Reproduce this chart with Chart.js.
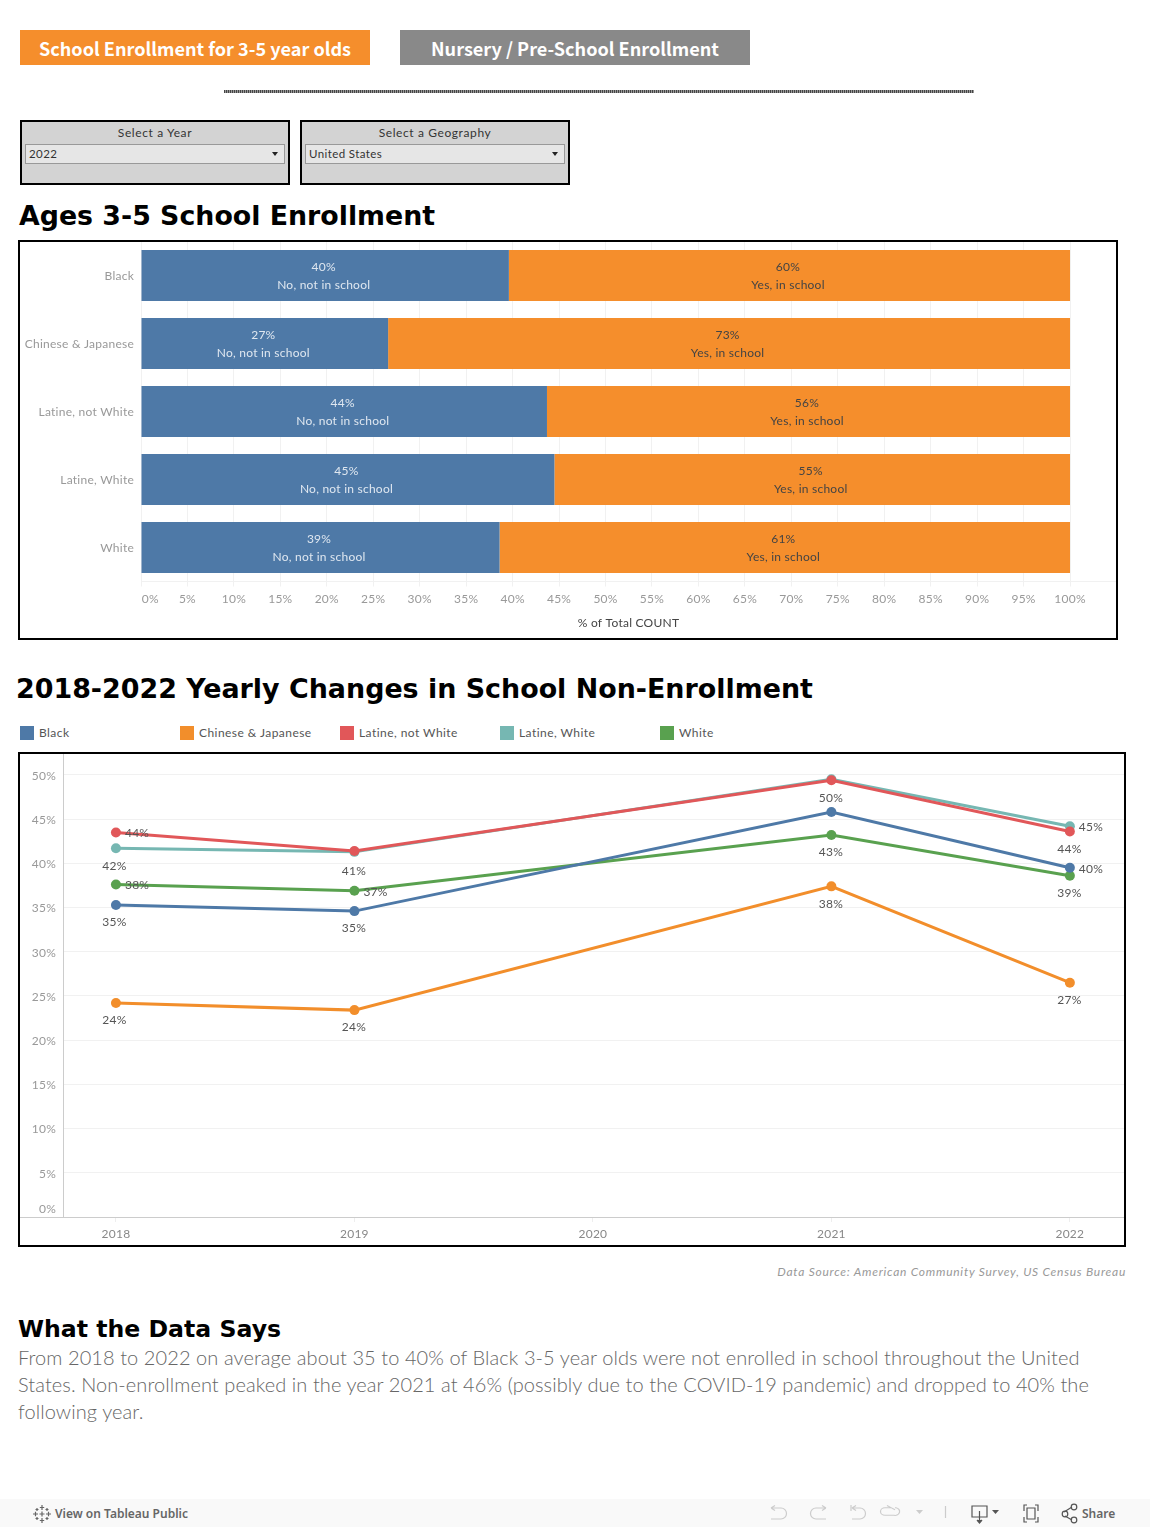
<!DOCTYPE html>
<html><head><meta charset="utf-8">
<script src="https://cdn.jsdelivr.net/npm/chart.js@4/dist/chart.umd.min.js"></script>
<style>
html,body{margin:0;padding:0;background:#fff;width:1150px;height:1527px;overflow:hidden}
body{position:relative;font-family:Lato,sans-serif}
.a{position:absolute;white-space:nowrap}
.btn{height:35px;width:350px;top:30px;color:#fff;font:700 18.1px/37px "Noto Sans CJK SC",sans-serif;text-align:center}
.h{font-family:"DejaVu Sans";font-weight:700;color:#000}
.flt{top:120px;width:266px;height:61px;border:2px solid #000;background:#d3d3d3}
.flt .t{position:absolute;left:0;right:0;top:3px;text-align:center;font-size:12px;line-height:15px;color:#333;letter-spacing:.6px}
.flt .d{position:absolute;left:3px;top:22px;width:258px;height:18px;border:1px solid #999;background:#e6e6e6;font-size:11.5px;line-height:18px;color:#333;text-indent:3px;letter-spacing:.4px}
.flt .d:after{content:"";position:absolute;right:6px;top:7px;border:3.5px solid transparent;border-top:4px solid #222;border-bottom:0}
.box{border:2px solid #000;box-sizing:border-box;pointer-events:none}
.lg{top:726px;height:14px;font-size:12px;line-height:14px;color:#555;padding-left:19px;letter-spacing:.45px}
.lg i{position:absolute;left:0;top:0;width:14px;height:14px}
canvas{position:absolute}
</style></head><body>
<div class="a btn" style="left:20px;background:#f58e2c">School Enrollment for 3-5 year olds</div>
<div class="a btn" style="left:400px;background:#898989">Nursery / Pre-School Enrollment</div>
<div class="a" style="left:224px;top:90px;width:750px;height:3px;background:repeating-linear-gradient(90deg,#444 0 1px,#999 1px 2px)"></div>
<div class="a flt" style="left:20px"><div class="t">Select a Year</div><div class="d">2022</div></div>
<div class="a flt" style="left:300px"><div class="t">Select a Geography</div><div class="d">United States</div></div>
<div class="a h" style="left:19px;top:198px;font-size:26.8px;line-height:36px">Ages 3-5 School Enrollment</div>
<div style="position:absolute;left:18px;top:240px;width:1100px;height:400px"><canvas id="bars" width="1100" height="400"></canvas></div>
<div class="a box" style="left:18px;top:240px;width:1100px;height:400px"></div>
<div class="a h" style="left:16px;top:671px;font-size:26.9px;line-height:36px">2018-2022 Yearly Changes in School Non-Enrollment</div>
<div id="legend"></div>
<div style="position:absolute;left:18px;top:749px;width:1111px;height:498px"><canvas id="lines" width="1111" height="498"></canvas></div>
<div class="a box" style="left:18px;top:752px;width:1108px;height:495px"></div>
<div class="a" style="right:24px;top:1264px;font-size:12px;line-height:16px;font-style:italic;color:#999;letter-spacing:.75px">Data Source: American Community Survey, US Census Bureau</div>
<div class="a h" style="left:18px;top:1313px;font-size:23.6px;line-height:32px">What the Data Says</div>
<div class="a" style="left:18px;top:1344px;font-size:20px;line-height:27px;font-weight:300;color:#666;letter-spacing:.08px">From 2018 to 2022 on average about 35 to 40% of Black 3-5 year olds were not enrolled in school throughout the United<br>States. Non-enrollment peaked in the year 2021 at 46% (possibly due to the COVID-19 pandemic) and dropped to 40% the<br>following year.</div>
<div class="a" style="left:0;top:1499px;width:1150px;height:28px;background:#f9f9f9"></div>
<svg class="a" style="left:32px;top:1504px" width="20" height="20" viewBox="0 0 20 20" stroke="#666" stroke-width="1.2" fill="none"><path d="M10 1v5M7.8 3.5h4.4M10 14v5M7.8 16.5h4.4M1 10h5M3.5 7.8v4.4M14 10h5M16.5 7.8v4.4M10 7.5v5M7.5 10h5M5 4v3M3.5 5.5h3M15 4v3M13.5 5.5h3M5 13v3M3.5 14.5h3M15 13v3M13.5 14.5h3"/></svg>
<div class="a" style="left:55px;top:1505px;font:600 12px/17px 'Noto Sans',sans-serif;color:#666">View on Tableau Public</div>
<svg class="a" style="left:760px;top:1499px" width="330" height="28" viewBox="0 0 330 28" fill="none" stroke="#ccc" stroke-width="1.2">
<path d="M11 9h10a5.500 5.500 0 0 1 0 11h-10M11 9l4-2.500M11 9l4 2.500"/>
<path d="M66 9h-10a5.500 5.500 0 0 0 0 11h10M66 9l-4-2.500M66 9l-4 2.500"/>
<path d="M91 6v6M92 9h8a5.500 5.500 0 0 1 0 11h-8M92 9l4-2.500M92 9l4 2.500"/>
<path d="M134 9h-6a4.500 4.500 0 0 0 0 9h9a4.500 4.500 0 0 0 2-9h-1M134 9l-4-2.500M134 9l4 2.500" transform="translate(-3 1) scale(1 .85)"/>
<path d="M156 11h7l-3.500 4z" fill="#ccc" stroke="none"/>
<path d="M185.500 7v12"/>
<g stroke="#555"><path d="M212 7h15v11h-15zM219.500 12v11"/><path d="M217 21l2.500 3 2.500-3" fill="#555"/><path d="M232 11h7l-3.500 4z" fill="#555" stroke="none"/>
<path d="M264 12v-6h3M275 6h3v6M264 18v5h3M275 23h3v-5M267 9h8v11h-8z"/>
<path d="M312 8l-8 5M305 17l7 4" stroke="#555"/><circle cx="305" cy="15" r="2.800"/><circle cx="314" cy="8" r="2.800"/><circle cx="314" cy="21" r="2.800"/></g>
</svg>
<div class="a" style="left:1082px;top:1505px;font:600 12px/17px 'Noto Sans',sans-serif;color:#666">Share</div>
<script>
const FONT='Lato, sans-serif';
const categories=['Black','Chinese & Japanese','Latine, not White','Latine, White','White'];
const notInSchool=[39.6,26.6,43.7,44.5,38.6];
const inSchool=[60.4,73.4,56.3,55.5,61.4];
const notLabels=['40%','27%','44%','45%','39%'];
const inLabels=['60%','73%','56%','55%','61%'];
const barTicks=[0,5,10,15,20,25,30,35,40,45,50,55,60,65,70,75,80,85,90,95,100];
const years=[2018,2019,2020,2021,2022];
const pointYears=[2018,2019,2021,2022];
const seriesNames=['Black','Chinese & Japanese','Latine, not White','Latine, White','White'];
const seriesColors=['#4e79a7','#f28e2b','#e15759','#76b7b2','#59a14f'];
const black=[35.3,34.6,45.8,39.5];
const chinese=[24.2,23.4,37.4,26.5];
const latineNotWhite=[43.5,41.4,49.4,43.6];
const latineWhite=[41.7,41.3,49.5,44.2];
const white=[37.6,36.9,43.2,38.6];
const blackLabels=['35%','35%',null,'40%'];
const chineseLabels=['24%','24%','38%','27%'];
const latineNotWhiteLabels=['44%','41%','50%','44%'];
const latineWhiteLabels=['42%',null,null,'45%'];
const whiteLabels=['38%','37%','43%','39%'];
const blackSides=['b','b','b','r'];
const chineseSides=['b','b','b','b'];
const latineNotWhiteSides=['r','B','b','b'];
const latineWhiteSides=['b','b','b','r'];
const whiteSides=['r','r','b','b'];
const yTicks=[0,5,10,15,20,25,30,35,40,45,50];

const lg=document.getElementById('legend');
seriesNames.forEach((n,i)=>{const d=document.createElement('div');d.className='a lg';d.style.left=(20+160*i)+'px';d.textContent=n;const s=document.createElement('i');s.style.background=seriesColors[i];d.appendChild(s);lg.appendChild(d);});

const spacing={id:'spacing',beforeDraw(c){c.ctx.letterSpacing='.24px';}};
const noPad=s=>{s.paddingTop=s.paddingBottom=s.paddingLeft=s.paddingRight=0;};
const barLabelPlugin={id:'barLabels',afterDatasetsDraw(c){
  const x=c.ctx;x.save();x.textAlign='center';x.textBaseline='middle';x.font='12px '+FONT;
  c.data.datasets.forEach((ds,di)=>{c.getDatasetMeta(di).data.forEach((el,i)=>{
    x.fillStyle=ds.labelColor;
    const cx=(el.base+el.x)/2-1.5;
    x.fillText(ds.valueLabels[i],cx,el.y-8.5);
    x.fillText(ds.label,cx,el.y+9.5);
  });});
  x.restore();
}};
new Chart(document.getElementById('bars'),{type:'bar',plugins:[spacing,barLabelPlugin],
 data:{labels:categories,datasets:[
  {label:'No, not in school',data:notInSchool,backgroundColor:'#4e79a7',valueLabels:notLabels,labelColor:'#dfe7f0'},
  {label:'Yes, in school',data:inSchool,backgroundColor:'#f58e2c',valueLabels:inLabels,labelColor:'#444'}]},
 options:{indexAxis:'y',responsive:false,animation:false,events:[],
  layout:{padding:{top:1.5,right:2,left:0,bottom:0}},
  datasets:{bar:{barPercentage:.75,categoryPercentage:1}},
  plugins:{legend:{display:false},tooltip:{enabled:false}},
  scales:{
   y:{stacked:true,grid:{display:false,drawTicks:false},border:{display:false},
      afterFit(s){s.width=123;noPad(s)},
      ticks:{autoSkip:false,padding:7,labelOffset:1,color:'#999',font:{family:FONT,size:12}}},
   x:{stacked:true,min:0,max:104.95,
      afterFit(s){s.height=58.5;noPad(s)},
      afterBuildTicks(s){s.ticks=barTicks.map(v=>({value:v}))},
      grid:{color:'#f1f1f1',tickColor:'#f1f1f1',tickLength:5},border:{color:'#f1f1f1'},
      ticks:{autoSkip:false,maxRotation:0,padding:5,color:'#999',font:{family:FONT,size:12},
        callback:v=>(v===0?'\u2002\u2002\u2002':'')+v+'%'},
      title:{display:true,text:'% of Total COUNT',color:'#444',font:{family:FONT,size:12},padding:{top:0,bottom:10}}}
  }}});

const rows=[[black,blackLabels,blackSides],[chinese,chineseLabels,chineseSides],[latineNotWhite,latineNotWhiteLabels,latineNotWhiteSides],[latineWhite,latineWhiteLabels,latineWhiteSides],[white,whiteLabels,whiteSides]];
const lineLabelPlugin={id:'lineLabels',afterDatasetsDraw(c){
  const x=c.ctx;x.save();x.textBaseline='middle';x.font='12px '+FONT;x.fillStyle='#555';
  c.data.datasets.forEach((ds,di)=>{c.getDatasetMeta(di).data.forEach((el,i)=>{
    const t=rows[di][1][i];if(!t)return;
    const side=rows[di][2][i];
    if(side==='r'){x.textAlign='left';x.fillText(t,el.x+9,el.y+1);}
    else{x.textAlign='center';x.fillText(t,el.x-(i===0?1.5:.5),el.y+(side==='B'?20.5:17.5));}
  });});
  const sx=c.scales.y,yy=sx.getPixelForValue(0);
  x.strokeStyle='#ccc';x.lineWidth=1;x.beginPath();x.moveTo(2,Math.round(yy)+.5);x.lineTo(c.chartArea.left,Math.round(yy)+.5);x.stroke();
  x.restore();
}};
new Chart(document.getElementById('lines'),{type:'line',plugins:[spacing,lineLabelPlugin],
 data:{datasets:rows.map((r,i)=>({label:seriesNames[i],
   data:r[0].map((v,k)=>({x:pointYears[k],y:v})),
   borderColor:seriesColors[i],backgroundColor:seriesColors[i],borderWidth:3,pointRadius:5,pointBorderWidth:0,tension:0}))},
 options:{responsive:false,animation:false,events:[],
  layout:{padding:0},
  plugins:{legend:{display:false},tooltip:{enabled:false}},
  scales:{
   x:{type:'linear',min:2017.778,max:2022.227,
      afterFit(s){s.height=30;noPad(s)},
      afterBuildTicks(s){s.ticks=years.map(v=>({value:v}))},
      grid:{drawOnChartArea:false,tickColor:'#eee',tickLength:5},border:{color:'#ccc'},
      ticks:{autoSkip:false,maxRotation:0,padding:5,color:'#888',font:{family:FONT,size:12},callback:v=>String(v)}},
   y:{min:0,max:52.37,
      afterFit(s){s.width=45;noPad(s)},
      afterBuildTicks(s){s.ticks=yTicks.map(v=>({value:v}))},
      grid:{color:c=>c.tick&&c.tick.value===0?'#ccc':'#f1f1f1',drawTicks:false,tickLength:0},border:{color:'#ccc'},
      ticks:{autoSkip:false,padding:7,labelOffset:1,color:'#999',font:{family:FONT,size:12,lineHeight:1.5},
        callback:v=>v===0?['0%','']:v+'%'}}
  }}});
</script>
</body></html>
